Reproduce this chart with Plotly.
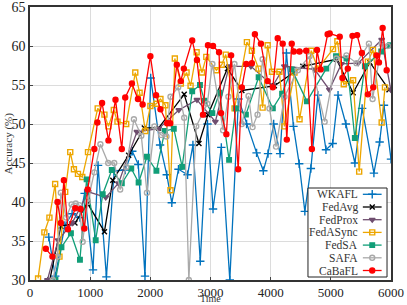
import plotly.graph_objects as go

wkafl_t = [312, 420, 580, 700, 830, 908, 1047, 1131, 1270, 1400, 1583, 1700, 1800, 1911, 2006, 2162, 2273, 2357, 2468, 2619, 2708, 2830, 2950, 3042, 3180, 3321, 3465, 3600, 3766, 3878, 3956, 4050, 4157, 4262, 4379, 4474, 4568, 4668, 4785, 4919, 5031, 5120, 5250, 5400, 5520, 5716, 5811, 5883, 6000]
wkafl_y = [35.5, 30.5, 37.0, 38.5, 38.0, 41.1, 31.3, 44.7, 30.4, 44.0, 44.1, 46.5, 44.8, 30.5, 55.9, 47.3, 43.5, 39.9, 44.2, 43.5, 47.3, 32.4, 50.0, 39.1, 47.0, 30.0, 53.2, 50.0, 46.3, 44.0, 46.2, 50.0, 46.2, 59.1, 49.7, 44.9, 38.8, 44.3, 53.7, 46.7, 47.5, 53.7, 50.0, 45.0, 52.0, 43.7, 47.7, 52.4, 45.5]

fedavg_t = [329, 513, 747, 958, 1237, 1376, 1640, 1900, 2139, 2563, 2808, 2958, 3281, 3521, 4061, 4535, 5092, 5370, 5649, 5967]
fedavg_y = [30.0, 36.9, 37.3, 39.8, 36.2, 42.8, 46.0, 49.5, 49.5, 53.8, 47.5, 51.2, 57.1, 54.3, 54.9, 57.4, 58.3, 54.0, 57.9, 54.4]

fedprox_t = [290, 468, 700, 970, 1259, 1471, 1777, 2139, 2474, 2775, 3081, 3309, 3672, 4036, 4229, 4730, 4975, 5176, 5454, 5845, 5996]
fedprox_y = [30.0, 35.1, 37.3, 41.3, 40.6, 42.4, 49.0, 49.4, 51.8, 53.1, 50.3, 57.4, 57.4, 54.9, 57.4, 57.0, 54.4, 57.7, 57.8, 60.8, 54.4]

fedasync_t = [134, 239, 323, 418, 490, 585, 669, 730, 797, 869, 964, 1125, 1237, 1304, 1393, 1454, 1599, 1750, 1822, 1917, 2001, 2101, 2168, 2251, 2335, 2407, 2507, 2602, 2669, 2769, 2858, 2930, 3098, 3187, 3254, 3400, 3605, 3688, 3799, 3866, 3950, 4022, 4145, 4229, 4396, 4480, 4675, 4785, 5036, 5109, 5215, 5370, 5471, 5616, 5700, 5845, 5900]
fedasync_y = [30.2, 36.1, 38.0, 42.3, 33.0, 41.3, 46.4, 44.2, 43.6, 43.2, 46.4, 52.0, 51.2, 49.7, 51.8, 50.3, 50.0, 56.6, 54.0, 49.1, 52.3, 52.6, 53.2, 52.4, 41.5, 58.4, 55.2, 56.6, 54.9, 59.2, 56.6, 58.6, 56.9, 57.6, 58.9, 52.0, 60.5, 59.4, 57.1, 52.1, 60.1, 56.7, 56.7, 49.7, 56.6, 50.6, 59.4, 57.1, 59.6, 60.6, 55.1, 55.6, 43.9, 58.0, 59.5, 50.2, 54.7]

fedsa_t = [423, 523, 680, 830, 941, 1092, 1209, 1359, 1526, 1683, 1805, 1944, 2101, 2240, 2390, 2529, 2696, 2825, 2900, 3031, 3150, 3309, 3421, 3588, 3800, 4036, 4190, 4350, 4602, 4925, 5086, 5260, 5399, 5566, 5838, 5984]
fedsa_y = [30.0, 34.2, 36.0, 32.6, 42.9, 35.1, 41.0, 44.1, 42.4, 44.3, 42.5, 45.8, 44.0, 49.1, 49.4, 44.5, 54.2, 55.0, 53.0, 51.4, 54.0, 45.4, 52.0, 51.2, 56.0, 52.0, 53.9, 57.0, 52.9, 57.1, 58.7, 58.4, 48.2, 57.4, 59.3, 60.1]

safa_t = [380, 457, 513, 600, 691, 760, 819, 875, 960, 1070, 1170, 1300, 1400, 1499, 1600, 1727, 1850, 1944, 2068, 2178, 2268, 2335, 2463, 2563, 2640, 2763, 2947, 3031, 3209, 3298, 3398, 3520, 3632, 3699, 3782, 3866, 3980, 4089, 4229, 4451, 4646, 4897, 5092, 5260, 5427, 5633, 5694, 5845, 5950]
safa_y = [30.0, 33.0, 41.2, 38.0, 39.7, 39.8, 39.6, 34.9, 40.0, 43.8, 47.4, 45.0, 45.0, 41.6, 44.5, 50.6, 48.5, 41.2, 49.7, 48.6, 48.4, 53.5, 54.7, 50.8, 30.0, 49.7, 52.6, 57.7, 49.2, 53.5, 57.7, 50.0, 53.6, 49.6, 51.2, 58.3, 52.0, 47.1, 53.5, 56.9, 58.7, 50.3, 58.4, 58.8, 57.8, 60.3, 53.2, 60.3, 60.0]

cabafl_t = [263, 373, 457, 513, 563, 630, 752, 841, 903, 958, 1070, 1120, 1198, 1304, 1421, 1526, 1583, 1694, 1794, 1872, 2001, 2095, 2168, 2279, 2330, 2440, 2507, 2557, 2696, 2775, 2875, 2958, 3042, 3142, 3176, 3264, 3343, 3460, 3521, 3594, 3688, 3738, 3838, 3950, 4036, 4117, 4200, 4268, 4350, 4385, 4480, 4591, 4685, 4770, 4830, 4947, 4981, 5148, 5193, 5282, 5360, 5437, 5516, 5616, 5705, 5761, 5800, 5861, 5928]
cabafl_y = [34.0, 33.0, 40.0, 37.3, 42.8, 36.5, 39.2, 39.1, 36.6, 41.6, 46.8, 50.2, 52.7, 47.9, 53.1, 46.8, 53.4, 55.2, 53.2, 52.5, 58.7, 53.7, 51.9, 50.1, 50.1, 57.6, 55.5, 57.1, 60.7, 58.2, 51.2, 60.1, 60.0, 59.2, 51.4, 48.7, 58.8, 44.2, 54.7, 57.7, 57.8, 61.5, 60.3, 55.5, 54.7, 61.0, 60.3, 48.0, 60.3, 59.3, 59.3, 59.4, 46.8, 59.5, 57.0, 61.5, 61.6, 61.2, 55.9, 57.1, 61.3, 61.4, 59.1, 53.8, 54.7, 58.8, 57.9, 62.3, 56.9]

x_ticks = [0, 1000, 2000, 3000, 4000, 5000, 6000]
y_ticks = [30, 35, 40, 45, 50, 55, 60, 65]

series = [
    ("WKAFL", wkafl_t, wkafl_y, "#0072BD", "cross-thin-open", 6),
    ("FedAvg", fedavg_t, fedavg_y, "#000000", "x-thin-open", 5),
    ("FedProx", fedprox_t, fedprox_y, "#6F4E6F", "triangle-down", 5),
    ("FedASync", fedasync_t, fedasync_y, "#EDA600", "square-open", 5),
    ("FedSA", fedsa_t, fedsa_y, "#119E78", "square", 4.5),
    ("SAFA", safa_t, safa_y, "#A9A9A9", "circle-open", 5),
    ("CaBaFL", cabafl_t, cabafl_y, "#FF0000", "circle", 5),
]

font = "Liberation Serif"
fig = go.Figure()
for name, t, y, c, sym, sz in series:
    fig.add_trace(go.Scatter(
        x=t, y=y, name=name, mode="lines+markers", showlegend=False,
        line=dict(color=c, width=1.3),
        marker=dict(symbol=sym, size=sz, color=c, line=dict(color=c, width=1.4)),
    ))

# custom legend (text left of key, as in the reference), on an overlay 0..1 axis
lg_x0, lg_x1, lg_y0, lg_y1 = 0.770, 0.989, 0.011, 0.337
key_x0, key_x1 = 0.922, 0.974
text_right = 0.912
row_top, row_step = (280 - 194.3) / 273, 12.7 / 273

fig.add_trace(go.Scatter(
    x=[lg_x0, lg_x1, lg_x1, lg_x0, lg_x0], y=[lg_y0, lg_y0, lg_y1, lg_y1, lg_y0],
    mode="lines", fill="toself", fillcolor="white",
    line=dict(color="#222", width=1), xaxis="x2", yaxis="y2",
    showlegend=False, hoverinfo="skip",
))
annotations = []
for i, (name, t, y, c, sym, sz) in enumerate(series):
    ry = row_top - i * row_step
    fig.add_trace(go.Scatter(
        x=[key_x0, (key_x0 + key_x1) / 2, key_x1], y=[ry, ry, ry],
        mode="lines+markers", xaxis="x2", yaxis="y2", showlegend=False, hoverinfo="skip",
        line=dict(color=c, width=1.3),
        marker=dict(symbol=sym, size=sz, color=c, opacity=[0, 1, 0], line=dict(color=c, width=1.4)),
    ))
    annotations.append(dict(
        x=text_right, y=ry, xref="paper", yref="paper", text=name, showarrow=False,
        xanchor="right", yanchor="middle", borderpad=0,
        font=dict(family=font, size=11.5, color="#333"),
    ))

annotations.append(dict(
    x=0.5, y=0, xref="paper", yref="paper", text="Time", showarrow=False, borderpad=0,
    xanchor="center", yanchor="bottom", yshift=-25, font=dict(family=font, size=10, color="#333"),
))
annotations.append(dict(
    x=0, y=0.5, xref="paper", yref="paper", text="Accuracy (%)", showarrow=False, borderpad=0,
    textangle=-90, xanchor="center", yanchor="middle", xshift=-22,
    font=dict(family=font, size=11, color="#333"),
))

fig.update_layout(
    width=407, height=305,
    margin=dict(l=30, r=16, t=7, b=25, autoexpand=False),
    paper_bgcolor="white", plot_bgcolor="white",
    font=dict(family=font, size=14, color="#222"),
    showlegend=False,
    annotations=annotations,
    xaxis=dict(
        range=[0, 6000], tickvals=x_ticks, ticks="inside", ticklen=3,
        showgrid=True, gridcolor="#dcdcdc", gridwidth=1,
        showline=True, linecolor="#333", linewidth=1.5, mirror=True,
        zeroline=False, tickfont=dict(size=13), automargin=False,
        ticklabeloverflow="allow",
    ),
    yaxis=dict(
        range=[30, 65], tickvals=y_ticks, ticks="inside", ticklen=3,
        showgrid=True, gridcolor="#dcdcdc", gridwidth=1,
        showline=True, linecolor="#333", linewidth=1.5, mirror=True,
        zeroline=False, tickfont=dict(size=14), automargin=False,
        ticklabeloverflow="allow",
    ),
    xaxis2=dict(range=[0, 1], overlaying="x", visible=False, fixedrange=True),
    yaxis2=dict(range=[0, 1], overlaying="y", visible=False, fixedrange=True),
)

fig.write_html(
    "out.html",
    config={"displayModeBar": False},
    post_script="document.body.style.margin='0';document.body.style.padding='0';",
)
